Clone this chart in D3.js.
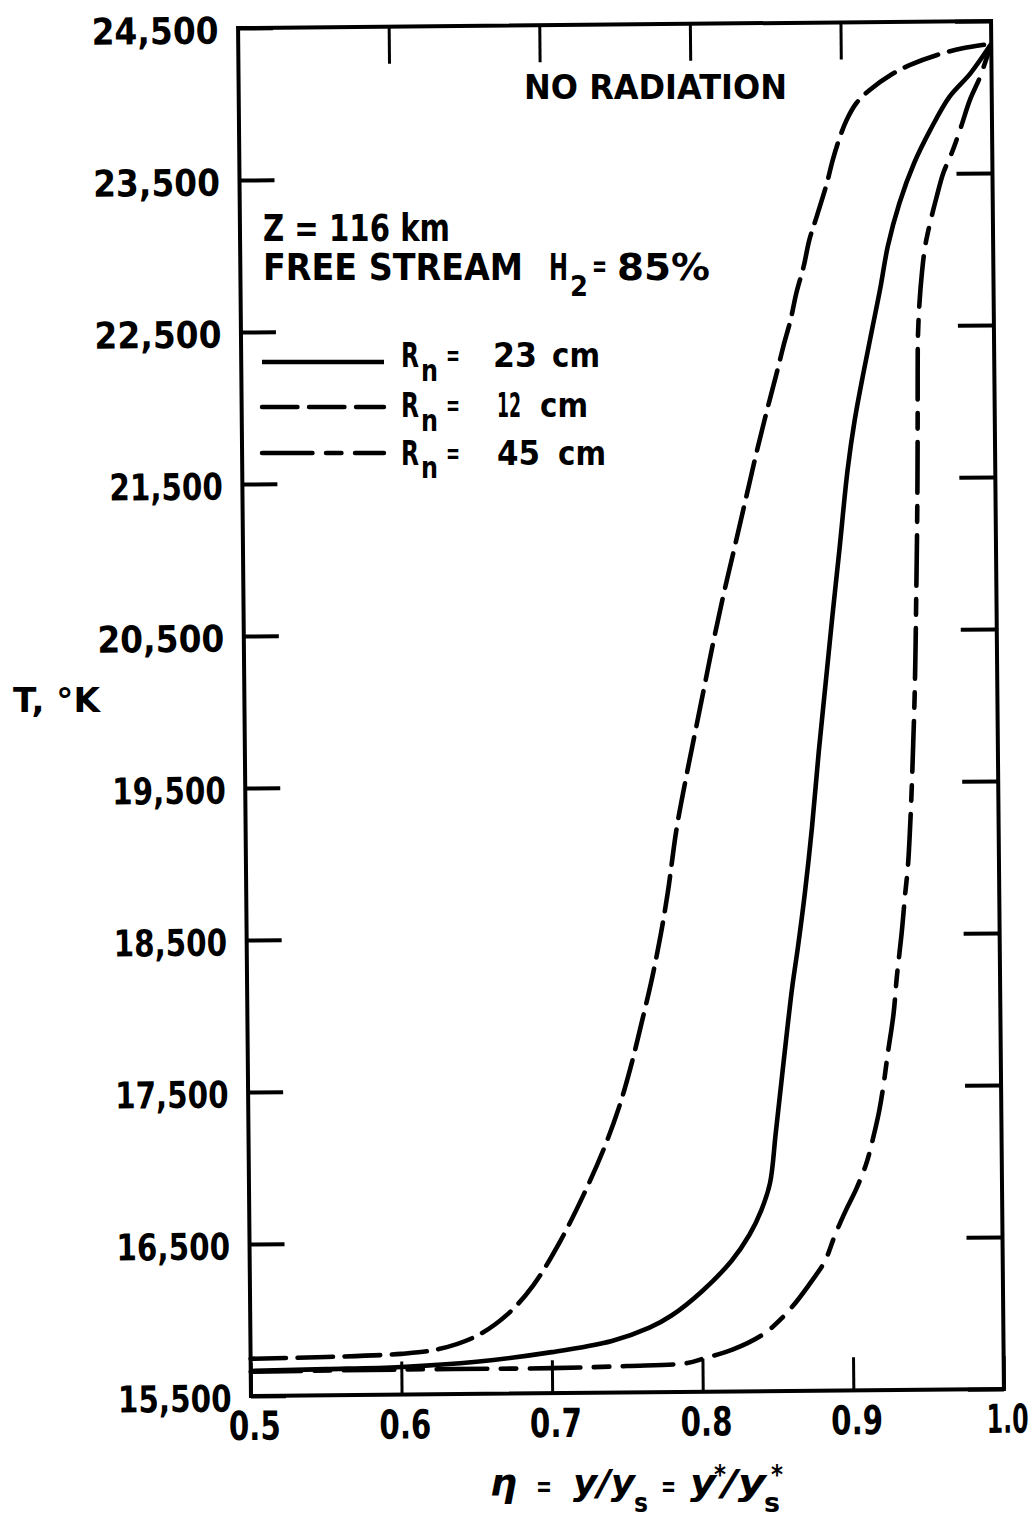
<!DOCTYPE html>
<html><head><meta charset="utf-8">
<script src="https://cdn.jsdelivr.net/npm/d3@7"></script>
<style>body{margin:0;background:#fff}</style>
</head><body>
<svg id="c" width="1035" height="1518"></svg>
<script>
// ---------------- data ----------------
const xTicks = [0.5, 0.6, 0.7, 0.8, 0.9, 1.0];
const xTickLabels = ["0.5", "0.6", "0.7", "0.8", "0.9", "1.0"];
const xTopTicks = [0.6, 0.7, 0.8, 0.9];
const yTicks = [15500, 16500, 17500, 18500, 19500, 20500, 21500, 22500, 23500, 24500];
const yTickLabels = ["15,500", "16,500", "17,500", "18,500", "19,500", "20,500", "21,500", "22,500", "23,500", "24,500"];
const seriesNames = ["Rn = 23 cm", "Rn = 12 cm", "Rn = 45 cm"];

// [eta, T(K)]
const curveR23 = [[0.50,15665],[0.55,15672],[0.60,15682],[0.65,15712],[0.70,15770],[0.74,15840],[0.765,15925],[0.78,16005],[0.80,16160],[0.82,16360],[0.832,16530],[0.840,16690],[0.846,16870],[0.850,17190],[0.854,17520],[0.858,17848],[0.862,18160],[0.866,18420],[0.871,18780],[0.876,19200],[0.881,19700],[0.886,20150],[0.891,20600],[0.896,21029],[0.902,21560],[0.907,21884],[0.913,22190],[0.919,22474],[0.925,22759],[0.930,23022],[0.938,23307],[0.948,23569],[0.959,23787],[0.972,24005],[0.986,24157],[1.000,24350]];
const curveR12 = [[0.50,15745],[0.55,15752],[0.60,15768],[0.625,15797],[0.65,15880],[0.671,16023],[0.688,16209],[0.706,16494],[0.722,16801],[0.736,17108],[0.746,17371],[0.754,17634],[0.762,17942],[0.769,18227],[0.775,18512],[0.780,18792],[0.786,19197],[0.792,19504],[0.798,19788],[0.805,20116],[0.812,20445],[0.819,20751],[0.826,21036],[0.834,21364],[0.842,21692],[0.849,21960],[0.856,22217],[0.860,22370],[0.865,22545],[0.869,22721],[0.874,22895],[0.878,23071],[0.883,23224],[0.890,23443],[0.894,23595],[0.899,23748],[0.9035,23858],[0.910,23967],[0.919,24054],[0.933,24151],[0.946,24216],[0.964,24280],[0.981,24322],[1.000,24350]];
const curveR45 = [[0.50,15660],[0.60,15665],[0.70,15665],[0.75,15674],[0.79,15690],[0.801,15720],[0.82,15775],[0.84,15871],[0.853,15980],[0.863,16090],[0.873,16221],[0.882,16353],[0.889,16528],[0.896,16681],[0.903,16820],[0.910,16990],[0.915,17170],[0.919,17340],[0.922,17510],[0.925,17715],[0.929,17970],[0.9315,18220],[0.935,18510],[0.9375,18760],[0.9395,18941],[0.9412,19200],[0.9425,19450],[0.9438,19750],[0.9450,20050],[0.9460,20400],[0.9468,20750],[0.9476,21100],[0.9483,21500],[0.9488,21900],[0.9491,22200],[0.9495,22430],[0.9507,22647],[0.9525,22844],[0.9548,23020],[0.9582,23173],[0.9628,23347],[0.9673,23501],[0.9730,23632],[0.9787,23785],[0.9855,23982],[0.9924,24134],[1.000,24350]];

(function () {
// ---------------- drawing ----------------
const FONT = "'DejaVu Sans', 'Liberation Sans', sans-serif";
const svg = d3.select("#c");
svg.append("rect").attr("width", 1035).attr("height", 1518).attr("fill", "#fff");

const x = d3.scaleLinear().domain([0.5, 1.0]).range([244.5, 997.5]);
const y = d3.scaleLinear().domain([15500, 24500]).range([1392.5, 24.5]);

// the scanned page is slightly rotated
const g = svg.append("g").attr("transform", "rotate(-0.54,621,708.5)");

function labelWidth(s, digit, one, punct) {
  let w = 0;
  for (const ch of s) w += ch === "1" ? one : (ch === "," || ch === ".") ? punct : digit;
  return w;
}

// left axis (ticks inward + labels)
const axL = g.append("g").attr("transform", `translate(${x(0.5)},0)`)
  .call(d3.axisLeft(y).tickValues(yTicks).tickSize(-35).tickPadding(19.5)
    .tickFormat((d, i) => yTickLabels[i]));
axL.select(".domain").remove();
axL.selectAll("line").attr("stroke", "#000").attr("stroke-width", 4);
axL.selectAll("text")
  .attr("font-family", FONT).attr("font-weight", "bold").attr("font-size", 37)
  .attr("fill", "#000").attr("dy", "0.40em")
  .attr("textLength", d => labelWidth(yTickLabels[yTicks.indexOf(d)], 23.4, 10, 10))
  .attr("lengthAdjust", "spacingAndGlyphs");

// right axis (ticks inward)
const axR = g.append("g").attr("transform", `translate(${x(1.0)},0)`)
  .call(d3.axisRight(y).tickValues(yTicks).tickSize(-36).tickFormat(""));
axR.select(".domain").remove();
axR.selectAll("line").attr("stroke", "#000").attr("stroke-width", 4);

// bottom axis
const axB = g.append("g").attr("transform", `translate(0,${y(15500)})`)
  .call(d3.axisBottom(x).tickValues(xTicks).tickSize(-33).tickPadding(15.5)
    .tickFormat((d, i) => xTickLabels[i]));
axB.select(".domain").remove();
axB.selectAll("line").attr("stroke", "#000").attr("stroke-width", 3);
axB.selectAll("text")
  .attr("font-family", FONT).attr("font-weight", "bold").attr("font-size", 40)
  .attr("fill", "#000").attr("dx", 3)
  .attr("textLength", d => labelWidth(xTickLabels[xTicks.indexOf(d)], 21, 11, 10))
  .attr("lengthAdjust", "spacingAndGlyphs");

// top axis (ticks inward)
const axT = g.append("g").attr("transform", `translate(0,${y(24500)})`)
  .call(d3.axisTop(x).tickValues(xTopTicks).tickSize(-37).tickFormat(""));
axT.select(".domain").remove();
axT.selectAll("line").attr("stroke", "#000").attr("stroke-width", 3);

// frame
g.append("rect")
  .attr("x", x(0.5)).attr("y", y(24500))
  .attr("width", x(1.0) - x(0.5)).attr("height", y(15500) - y(24500))
  .attr("fill", "none").attr("stroke", "#000").attr("stroke-width", 4);

// curves
const line = d3.line().x(d => x(d[0])).y(d => y(d[1])).curve(d3.curveCatmullRom.alpha(0.5));
const styles = [
  { data: curveR23, dash: null },
  { data: curveR12, dash: "35.5,11.5" },
  { data: curveR45, dash: "50.5,13.5,15.5,13.5" }
];
styles.forEach(s => {
  g.append("path").datum(s.data).attr("d", line)
    .attr("fill", "none").attr("stroke", "#000").attr("stroke-width", 4.6)
    .attr("stroke-linecap", s.dash ? "round" : "butt")
    .attr("stroke-linejoin", "round")
    .attr("stroke-dasharray", s.dash);
});

// ---------------- texts ----------------
function txt(str, tx, ty, size, len, extra) {
  const t = svg.append("text").attr("x", tx).attr("y", ty)
    .attr("font-family", FONT).attr("font-weight", "bold").attr("font-size", size)
    .attr("fill", "#000").text(str);
  if (len) t.attr("textLength", len).attr("lengthAdjust", "spacingAndGlyphs");
  if (extra) extra(t);
  return t;
}

txt("NO RADIATION", 524, 99, 34, 263);
txt("Z = 116 km", 263, 241, 37, 187);
txt("FREE STREAM", 263, 280, 37, 260);
txt("H", 549, 280, 37, 19);
txt("2", 570, 296, 28, 18);
txt("=", 592, 276, 30, 15);
txt("85%", 617, 280, 37, 93);

// legend
const legendRows = [
  { lineY: 362, base: 367, nBase: 381, num: "23", numX: 493, numW: 44, cmX: 552, dash: styles[0].dash },
  { lineY: 407, base: 417, nBase: 431, num: "12", numX: 497, numW: 24, cmX: 540, dash: styles[1].dash },
  { lineY: 453, base: 465, nBase: 478, num: "45", numX: 497, numW: 43, cmX: 558, dash: styles[2].dash }
];
legendRows.forEach(r => {
  svg.append("line").attr("x1", 262).attr("x2", 384).attr("y1", r.lineY).attr("y2", r.lineY)
    .attr("stroke", "#000").attr("stroke-width", 4.4)
    .attr("stroke-linecap", r.dash ? "round" : "butt")
    .attr("stroke-dasharray", r.dash);
  txt("R", 401, r.base, 33, 18);
  txt("n", 421, r.nBase, 30, 17);
  txt("=", 446, r.base - 2, 28, 14);
  txt(r.num, r.numX, r.base, 33, r.numW);
  txt("cm", r.cmX, r.base, 33, 48);
});

// axis titles
txt("T, °K", 13, 712, 34, 87);
txt("η", 490, 1496, 38, 27, t => t.attr("font-style", "italic"));
txt("=", 536, 1496, 28, 16);
txt("y/y", 573, 1495, 36, 62, t => t.attr("font-style", "italic"));
txt("s", 634, 1512, 26, 14);
txt("=", 661, 1496, 28, 15);
txt("y", 690, 1495, 36, 26, t => t.attr("font-style", "italic"));
txt("*", 714, 1484, 26, 12);
txt("/y", 722, 1495, 36, 44, t => t.attr("font-style", "italic"));
txt("s", 764, 1512, 26, 16);
txt("*", 771, 1484, 26, 12);
})();
</script>
</body></html>
